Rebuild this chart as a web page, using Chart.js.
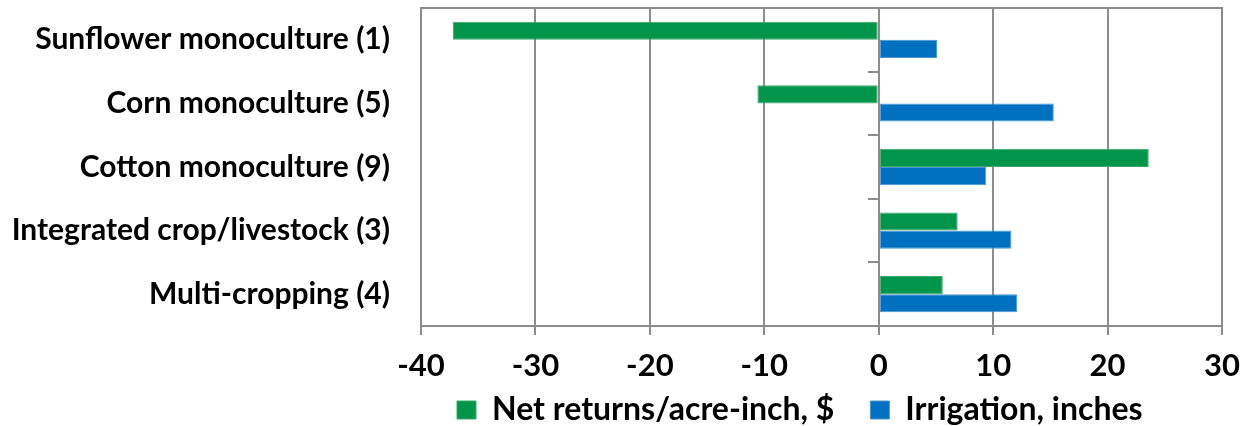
<!DOCTYPE html>
<html>
<head>
<meta charset="utf-8">
<script src="https://cdn.jsdelivr.net/npm/chart.js@4/dist/chart.umd.min.js"></script>
<style>
  html, body { margin: 0; padding: 0; background: #ffffff; }
  #wrap { width: 1250px; height: 426px; position: relative; }
</style>
</head>
<body>
<div id="wrap"><canvas id="c" width="1250" height="426"></canvas></div>
<script>
// Cropping systems compared by net return per acre-inch of water and irrigation applied
const categories = [
  'Sunflower monoculture (1)',
  'Corn monoculture (5)',
  'Cotton monoculture (9)',
  'Integrated crop/livestock (3)',
  'Multi-cropping (4)'
];
const netReturns = [-37.2, -10.6, 23.6, 6.9, 5.6];   // $ per acre-inch
const irrigation = [5.1, 15.3, 9.4, 11.6, 12.1];     // inches
const seriesNames = ['Net returns/acre-inch, $', 'Irrigation, inches'];
const xMin = -40, xMax = 30, xStep = 10;

const GRID = '#8c8c8c';
const FONT = 'Lato, "Open Sans", sans-serif';

new Chart(document.getElementById('c'), {
  type: 'bar',
  data: {
    labels: categories,
    datasets: [
      { label: seriesNames[0], data: netReturns, backgroundColor: '#00954a', borderColor: '#3aa96c', borderWidth: 1, borderSkipped: false },
      { label: seriesNames[1], data: irrigation, backgroundColor: '#0070c0', borderColor: '#4a96d2', borderWidth: 1, borderSkipped: false }
    ]
  },
  options: {
    indexAxis: 'y',
    responsive: false,
    animation: false,
    events: [],
    layout: { padding: { top: 8, right: 28, left: 0, bottom: 0 } },
    datasets: { bar: { categoryPercentage: 0.57, barPercentage: 1.0 } },
    scales: {
      x: {
        type: 'linear',
        min: xMin, max: xMax,
        // labels are placed below the axis line; the legend band shares this space
        ticks: { stepSize: xStep, color: '#000', mirror: true, padding: -59, font: { family: FONT, size: 31, weight: 'bold' } },
        grid: { color: GRID, lineWidth: 2, tickLength: 9, drawTicks: true },
        border: { display: true, color: GRID, width: 2 },
        afterFit: (s) => { s.height = 32; }
      },
      xTop: {
        type: 'linear',
        position: 'top',
        axis: 'x',
        ticks: { display: false },
        grid: { display: false, drawTicks: false },
        border: { display: true, color: GRID, width: 2 },
        afterFit: (s) => { s.height = 0; }
      },
      y: {
        type: 'category',
        position: 'left',
        offset: true,
        ticks: { color: '#000', padding: 31, font: { family: FONT, size: 30, weight: 'bold' } },
        grid: { display: false, drawTicks: false },
        border: { display: false },
        afterFit: (s) => { s.width = 421; s.paddingTop = 0; s.paddingBottom = 0; }
      },
      yZero: {
        type: 'category',
        axis: 'y',
        position: { x: 0 },
        offset: true,
        ticks: { display: false },
        grid: { offset: true, drawOnChartArea: false, drawTicks: true, tickLength: 10, color: GRID, lineWidth: 2 },
        border: { display: true, color: GRID, width: 2 }
      }
    },
    plugins: {
      legend: {
        position: 'bottom',
        align: 'start',
        fullSize: false,
        maxHeight: 68,
        labels: {
          color: '#000',
          boxWidth: 19, boxHeight: 18,
          padding: 36,
          font: { family: FONT, size: 32, weight: 'bold' }
        }
      },
      tooltip: { enabled: false }
    }
  }
});
</script>
</body>
</html>
